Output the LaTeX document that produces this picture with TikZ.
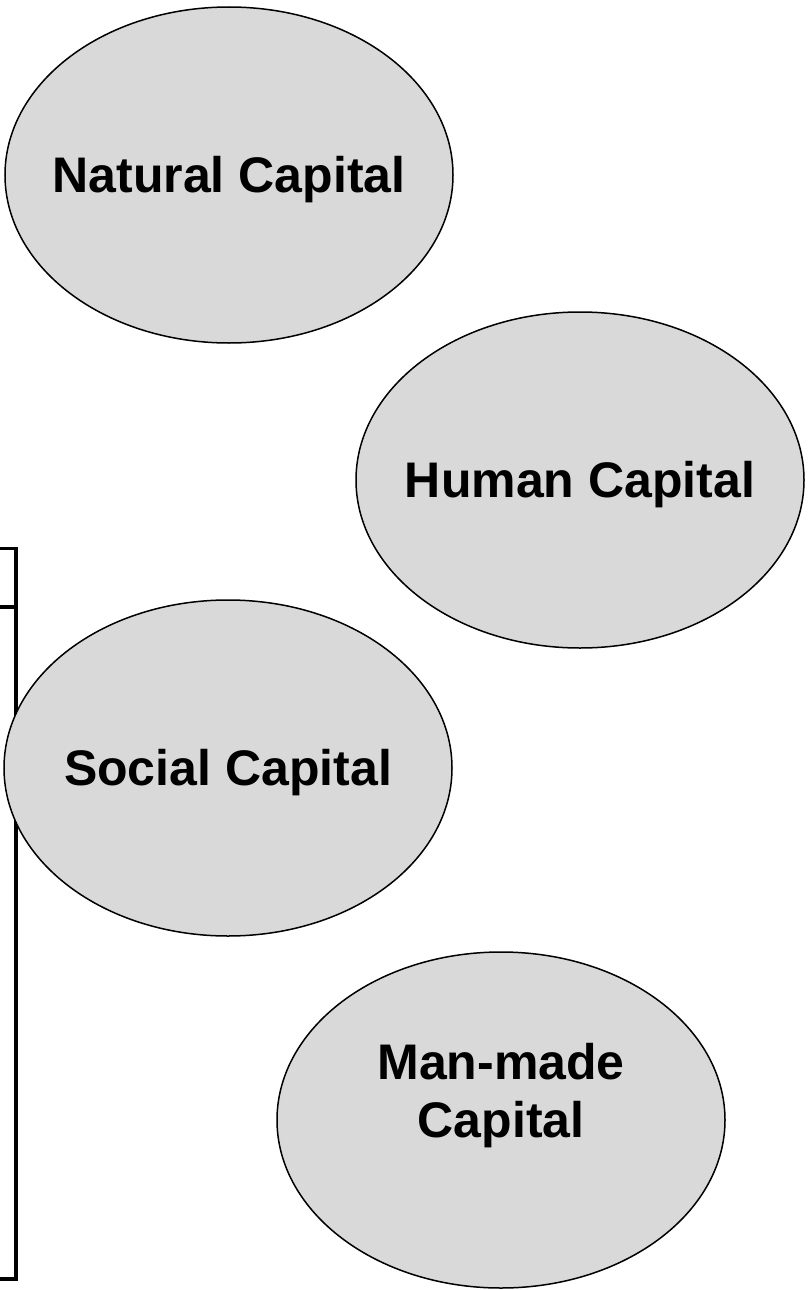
\documentclass[tikz,border=0pt]{standalone}
\usepackage{fontspec}
\setmainfont{Liberation Sans}
\usetikzlibrary{shapes.geometric}
\definecolor{capfill}{HTML}{D9D9D9}
\tikzset{
  capital/.style={ellipse, draw=black, line width=1.5pt, fill=capfill,
    minimum width=448pt, minimum height=336pt, inner xsep=-60pt, inner ysep=-10pt,
    font=\fontsize{50}{58}\selectfont\bfseries, align=center,
    text height=35.5pt, text depth=0pt},
  bracketline/.style={line width=4pt, draw=black}
}
\begin{document}
\begin{tikzpicture}[x=1pt, y=-1pt]
\useasboundingbox (0,0) rectangle (808,1290);
% bracket on the left
\coordinate (bt0) at (0,548);
\coordinate (bt1) at (16,548);
\coordinate (bt2) at (18,548);
\coordinate (bm0) at (0,607);
\coordinate (bm1) at (18,607);
\coordinate (bb0) at (0,1279);
\coordinate (bb1) at (16,1279);
\coordinate (bb2) at (18,1279);
\draw[line width=3pt] (bt0) -- (bt2);
\draw[bracketline] (bt1) -- (bb1);
\draw[bracketline] (bm0) -- (bm1);
\draw[bracketline] (bb0) -- (bb2);
% ellipses
\node[capital] (natural) at (229,175) {Natural Capital};
\node[capital] (human) at (580,480) {Human Capital};
\node[capital] (social) at (228,768) {Social Capital};
\node[capital] (manmade) at (501,1120) {Man-made\\Capital};
\end{tikzpicture}
\end{document}
